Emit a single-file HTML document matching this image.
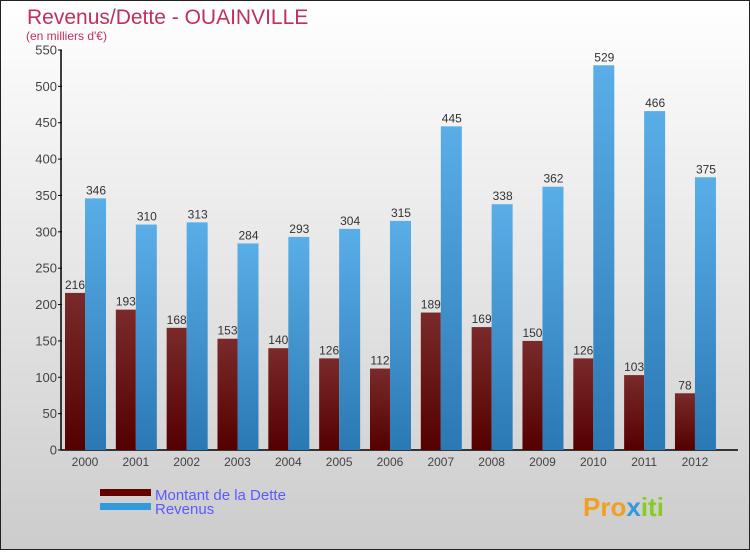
<!DOCTYPE html>
<html><head><meta charset="utf-8"><style>
body{margin:0;width:750px;height:550px;overflow:hidden;font-family:"Liberation Sans",sans-serif}
</style></head><body>
<svg width="750" height="550" xmlns="http://www.w3.org/2000/svg">
<defs>
<linearGradient id="bg" x1="0" y1="0" x2="0" y2="1"><stop offset="0" stop-color="#ffffff"/><stop offset="1" stop-color="#cccccc"/></linearGradient>
<linearGradient id="gd" x1="0" y1="0" x2="0" y2="1"><stop offset="0" stop-color="#7a2a2a"/><stop offset="1" stop-color="#550000"/></linearGradient>
<linearGradient id="gr" x1="0" y1="0" x2="0" y2="1"><stop offset="0" stop-color="#5aaee8"/><stop offset="1" stop-color="#2a78b4"/></linearGradient>
</defs>
<rect x="0.5" y="0.5" width="749" height="549" fill="url(#bg)" stroke="#222"/>
<text x="27" y="24" font-size="21" fill="#c0305a">Revenus/Dette - OUAINVILLE</text>
<text x="26" y="40" font-size="12" fill="#c0305a">(en milliers d'€)</text>
<g id="ax"></g>
<g id="bars"></g>
<rect x="100" y="489" width="51" height="7" fill="#660000"/>
<text x="155" y="500" font-size="15" fill="#5a5aff">Montant de la Dette</text>
<rect x="100" y="503" width="51" height="7" fill="#3399dd"/>
<text x="155" y="514" font-size="15" fill="#5a5aff">Revenus</text>
<text x="583" y="516" font-size="26" font-weight="bold" fill="#f0a020">Pro<tspan fill="#3399dd">x</tspan><tspan fill="#88cc22">iti</tspan></text>
</svg>
<script>
const years=["2000","2001","2002","2003","2004","2005","2006","2007","2008","2009","2010","2011","2012"];
const dette=[216,193,168,153,140,126,112,189,169,150,126,103,78];
const revenus=[346,310,313,284,293,304,315,445,338,362,529,466,375];
const ticks=[0,50,100,150,200,250,300,350,400,450,500,550];
const NS="http://www.w3.org/2000/svg";
const y=v=>450-v*400/550;
const gx=i=>65+i*50.83;
function mk(t,a,p){const e=document.createElementNS(NS,t);for(const k in a)e.setAttribute(k,a[k]);p.appendChild(e);return e;}
const ax=document.getElementById('ax'),bars=document.getElementById('bars');
const yl=mk('line',{x1:61,y1:50,x2:61,y2:450,stroke:'#000','stroke-width':1.5},ax);


const xl=mk('line',{x1:61,y1:450,x2:738,y2:450,stroke:'#000','stroke-width':1.5},ax);


ticks.forEach(t=>{
 mk('line',{x1:58,x2:62,y1:y(t),y2:y(t),stroke:'#000'},ax);
 const tx=mk('text',{x:57,y:y(t)+4.5,'text-anchor':'end','font-size':13,fill:'#444'},ax);tx.textContent=t;
 
 
});
years.forEach((yr,i)=>{
 const x=gx(i);
 const d=mk('rect',{x:x,y:y(dette[i]),width:20,height:450-y(dette[i]),fill:'url(#gd)'},bars);
 
 
 const r=mk('rect',{x:x+20,y:y(revenus[i]),width:21,height:450-y(revenus[i]),fill:'url(#gr)'},bars);
 
 
 const dl=mk('text',{x:x+10,y:y(dette[i])-4,'text-anchor':'middle','font-size':12,fill:'#333'},bars);dl.textContent=dette[i];
 
 
 const rl=mk('text',{x:x+31,y:y(revenus[i])-4,'text-anchor':'middle','font-size':12,fill:'#333'},bars);rl.textContent=revenus[i];
 
 
 const xt=mk('text',{x:x+20,y:466,'text-anchor':'middle','font-size':12,fill:'#444'},bars);xt.textContent=yr;
 
 
});
</script>
</body></html>
